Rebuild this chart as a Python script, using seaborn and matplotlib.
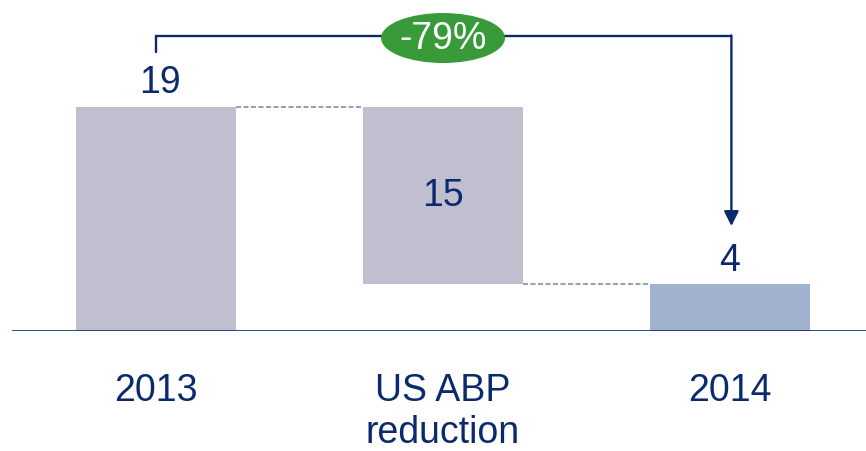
import matplotlib
matplotlib.use("Agg")
import matplotlib.pyplot as plt
import seaborn as sns
from matplotlib.patches import Ellipse

# --- data ---
categories = ["2013", "US ABP\nreduction", "2014"]
values = [19, 15, 4]          # label values
bar_tops = [19, 19, 4]
bar_bottoms = [0, 4, 0]
change_label = "-79%"

navy = "#0B2A6E"
bar_colors = ["#C0BFD0", "#C0BFD0", "#A0B2CF"]

sns.set_style("white")
plt.rcParams["font.family"] = ["Liberation Sans", "DejaVu Sans"]

fig = plt.figure(figsize=(8.66, 4.52), dpi=100)
ax = fig.add_axes([12 / 866, 120 / 452, 854 / 866, 332 / 452])

heights = [t - b for t, b in zip(bar_tops, bar_bottoms)]
x = list(range(len(categories)))
sns.barplot(x=x, y=heights, bottom=bar_bottoms, width=0.557,
            color=bar_colors[0], saturation=1, ax=ax, native_scale=True)
for patch, c in zip(ax.patches, bar_colors):
    patch.set_facecolor(c)
    patch.set_edgecolor("none")

ax.set_xlim(-0.502, 2.474)
ax.set_ylim(0, 28.16)
ax.axis("off")
ax.axhline(0, color=navy, lw=1.9, zorder=5)

# dashed connectors
hw = 0.557 / 2
ax.plot([0 + hw, 1 - hw], [bar_tops[0]] * 2, ls=(0, (3, 1.5)), color="#7F8FB0", lw=1.2)
ax.plot([1 + hw, 2 - hw], [bar_tops[2]] * 2, ls=(0, (3, 1.5)), color="#7F8FB0", lw=1.2)

# value labels
fs = 27
ax.text(-0.06, bar_tops[0] + 0.6, str(values[0]), ha="left", va="bottom",
        fontsize=fs, color=navy)
ax.text(1, (bar_tops[1] + bar_bottoms[1]) / 2, str(values[1]), ha="center",
        va="center", fontsize=fs, color=navy)
ax.text(2, bar_tops[2] + 0.5, str(values[2]), ha="center", va="bottom",
        fontsize=fs, color=navy)

# category labels
for xi, cat in zip(x, categories):
    ax.text(xi, -3.5, cat, ha="center", va="top", fontsize=fs, color=navy,
            linespacing=1.2, clip_on=False)

# bracket with arrow
top_y = 25.0
left_x, right_x = 0.0, 2.005
ax.plot([left_x, left_x, right_x], [23.7, top_y, top_y], color=navy, lw=1.7,
        solid_joinstyle="miter")
ax.annotate("", xy=(right_x, 8.9), xytext=(right_x, top_y + 0.07),
            arrowprops=dict(arrowstyle="-|>", color=navy, lw=1.7,
                            mutation_scale=22, shrinkA=0, shrinkB=0))

ell = Ellipse((1.0, 24.85), width=124 / 287, height=50 / 11.79,
              facecolor="#389A38", edgecolor="none", zorder=6)
ax.add_patch(ell)
ax.text(1.0, 24.85, change_label, ha="center", va="center", fontsize=fs,
        color="white", zorder=7)

fig.savefig("out.png", dpi=100)
